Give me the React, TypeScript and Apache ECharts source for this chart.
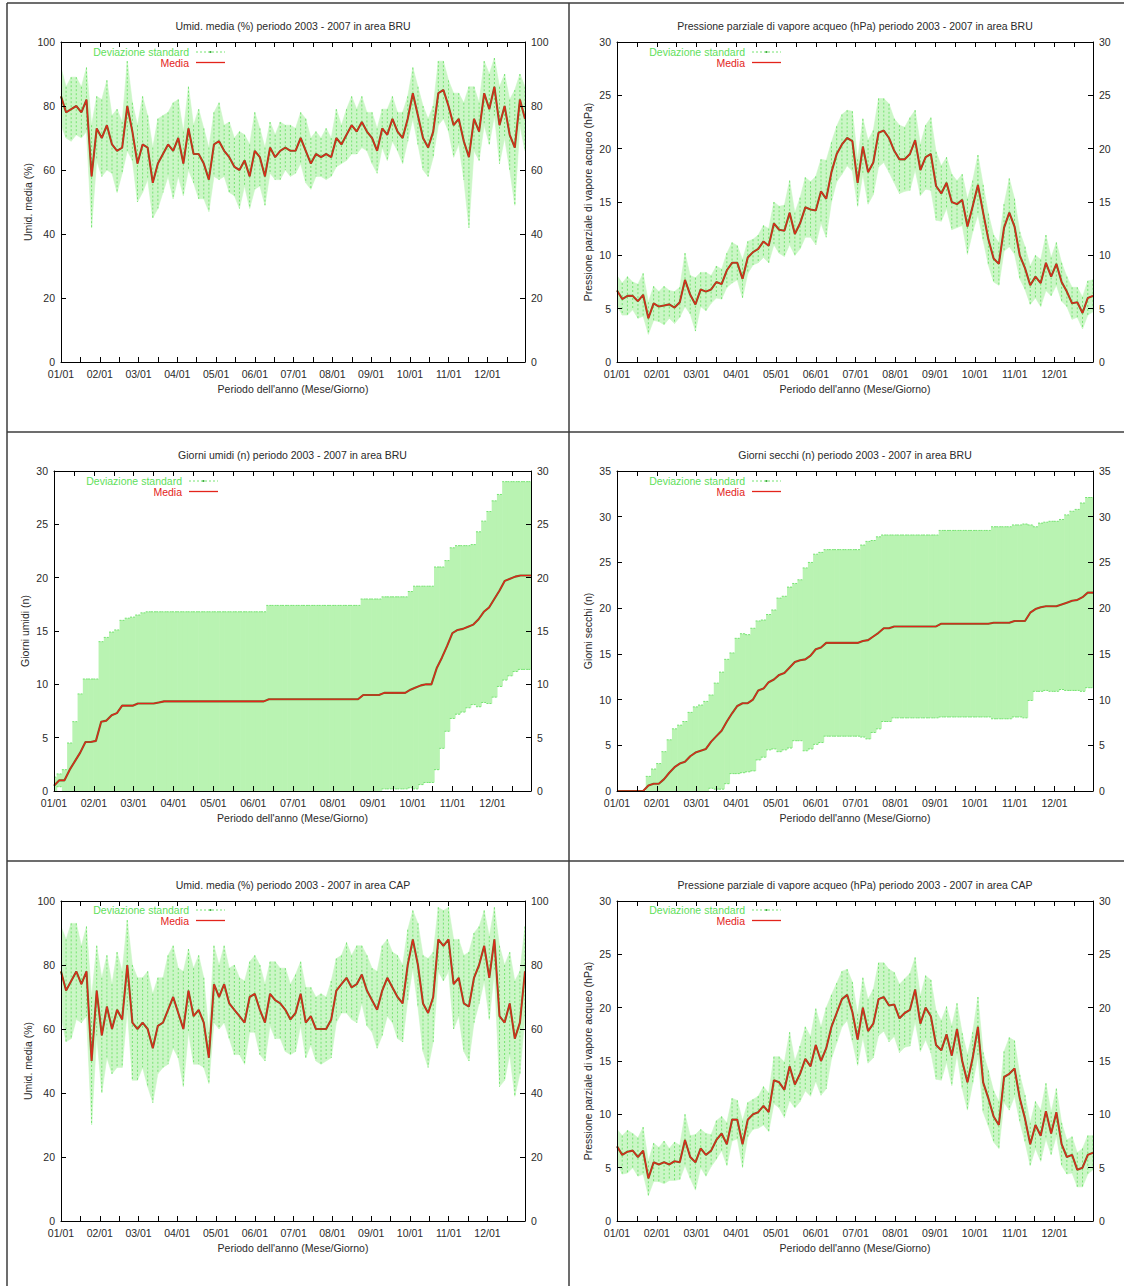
import React, { useEffect, useRef } from "react";
import * as echarts from "echarts";

// ---------- data ----------
const DAYS = [0,4,8,12,16,20,24,28,32,36,40,44,48,52,56,60,64,68,72,76,80,84,88,92,96,100,104,108,112,116,120,124,128,132,136,140,144,148,152,156,160,164,168,172,176,180,184,188,192,196,200,204,208,212,216,220,224,228,232,236,240,244,248,252,256,260,264,268,272,276,280,284,288,292,296,300,304,308,312,316,320,324,328,332,336,340,344,348,352,356,360,364];

const MONTH_LABELS = ["01/01","02/01","03/01","04/01","05/01","06/01","07/01","08/01","09/01","10/01","11/01","12/01"];

const TITLES = [
  "Umid. media (%) periodo 2003 - 2007 in area BRU",
  "Pressione parziale di vapore acqueo (hPa) periodo 2003 - 2007 in area BRU",
  "Giorni umidi (n) periodo 2003 - 2007 in area BRU",
  "Giorni secchi (n) periodo 2003 - 2007 in area BRU",
  "Umid. media (%) periodo 2003 - 2007 in area CAP",
  "Pressione parziale di vapore acqueo (hPa) periodo 2003 - 2007 in area CAP",
];
const Y_NAMES = [
  "Umid. media (%)",
  "Pressione parziale di vapore acqueo (hPa)",
  "Giorni umidi (n)",
  "Giorni secchi (n)",
  "Umid. media (%)",
  "Pressione parziale di vapore acqueo (hPa)",
];
const X_NAME = "Periodo dell'anno (Mese/Giorno)";
const LEGEND_SD = "Deviazione standard";
const LEGEND_MEAN = "Media";

const BRU_UMID_MEAN = [83,78,79,80,78,82,58,73,70,74,
  68,66,67,80,72,62,68,67,56,62,
  65,68,66,70,62,73,65,65,62,57,
  68,69,66,64,61,60,63,58,66,64,
  58,67,64,66,67,66,66,70,66,62,
  65,64,65,64,70,68,71,74,72,75,
  72,70,66,73,71,76,72,70,76,84,
  77,70,67,72,84,85,80,74,76,69,
  64,76,72,84,79,86,74,80,71,67,
  82,76];
const BRU_UMID_SD = [9,8,10,9,8,10,16,10,12,14,
  9,13,8,14,9,12,15,10,11,14,
  12,10,15,12,10,13,9,14,11,10,
  10,12,8,11,9,12,8,10,12,9,
  9,8,7,9,7,8,7,8,10,8,
  7,6,8,6,9,6,8,9,7,8,
  6,8,7,6,8,7,6,8,7,8,
  9,10,9,8,10,9,8,10,8,12,
  22,10,9,10,11,9,12,10,11,18,
  8,10];

const BRU_HPA_MEAN = [6.7,5.9,6.2,6.2,5.7,6.3,4.1,5.5,5.2,5.3,
  5.4,5.1,5.6,7.7,6.3,5.4,6.8,6.6,6.8,7.5,
  7.3,8.6,9.3,9.3,7.8,9.8,10.3,10.6,11.3,10.9,
  13.0,12.4,12.3,14.0,12.0,13.0,14.5,14.3,14.2,16.0,
  15.3,17.8,19.5,20.4,21.0,20.7,16.8,20.2,17.8,18.7,
  21.5,21.7,21.0,19.8,19.0,19.0,19.5,20.8,18.0,19.2,
  19.5,16.5,15.8,16.8,15.0,14.8,15.2,12.7,14.6,16.6,
  14.0,11.5,9.7,9.2,12.6,14.0,12.7,10.0,8.8,7.2,
  8.0,7.4,9.3,8.0,9.2,7.5,6.6,5.5,5.6,4.6,
  6.0,6.2];
const BRU_HPA_SD = [1.4,1.5,1.8,1.3,1.6,2.0,1.5,1.6,1.4,1.8,
  1.3,1.5,1.4,2.5,1.8,2.5,1.6,1.8,1.3,1.5,
  1.4,1.6,1.9,1.6,1.8,1.5,1.2,1.3,1.5,1.6,
  2.0,2.2,2.4,3.0,2.0,2.4,2.8,2.6,3.2,3.0,
  3.6,2.8,2.6,2.8,2.6,2.8,2.2,2.6,3.0,3.0,
  3.2,3.0,3.2,3.0,3.2,3.0,3.4,2.8,2.4,3.0,
  3.4,3.2,2.6,2.4,2.6,2.2,2.4,2.6,2.4,2.8,
  2.6,2.4,2.2,2.0,2.2,3.2,2.6,2.2,2.0,1.8,
  2.0,2.2,2.6,1.8,2.0,1.8,1.4,1.5,1.4,1.5,
  1.6,1.5];

const BRU_WET_MEAN = [0.5,1.0,1.0,2.0,2.8,3.6,4.6,4.6,4.7,6.5,
  6.6,7.1,7.3,8.0,8.0,8.0,8.2,8.2,8.2,8.2,
  8.3,8.4,8.4,8.4,8.4,8.4,8.4,8.4,8.4,8.4,
  8.4,8.4,8.4,8.4,8.4,8.4,8.4,8.4,8.4,8.4,
  8.4,8.6,8.6,8.6,8.6,8.6,8.6,8.6,8.6,8.6,
  8.6,8.6,8.6,8.6,8.6,8.6,8.6,8.6,8.6,9.0,
  9.0,9.0,9.0,9.2,9.2,9.2,9.2,9.2,9.5,9.7,
  9.9,10.0,10.0,11.5,12.5,13.6,14.8,15.1,15.2,15.4,
  15.6,16.1,16.8,17.2,18.0,18.8,19.7,19.9,20.1,20.2,
  20.2,20.2];
const BRU_WET_SD = [0.8,0.6,1.0,2.5,3.7,5.5,5.9,5.9,5.8,7.5,
  7.8,7.8,7.8,8.0,8.2,8.3,8.3,8.5,8.6,8.6,
  8.5,8.4,8.4,8.4,8.4,8.4,8.4,8.4,8.4,8.4,
  8.4,8.4,8.4,8.4,8.4,8.4,8.4,8.4,8.4,8.4,
  8.4,8.8,8.8,8.8,8.8,8.8,8.8,8.8,8.8,8.8,
  8.8,8.8,8.8,8.8,8.8,8.8,8.8,8.8,8.8,9.0,
  9.0,9.0,9.0,9.0,9.0,9.0,9.0,9.0,9.2,9.5,
  9.3,9.2,9.2,9.5,8.5,8.0,8.0,7.9,7.8,7.6,
  7.5,8.2,8.5,9.0,9.2,9.0,9.3,9.1,8.9,8.8,
  8.8,8.8];

const BRU_DRY_MEAN = [0,0,0,0,0,0,0.6,0.8,0.8,1.3,
  2.0,2.6,3.0,3.2,3.8,4.2,4.4,4.6,5.4,6.0,
  6.6,7.6,8.5,9.3,9.6,9.6,10.0,11.0,11.2,11.9,
  12.2,12.7,12.9,13.5,14.1,14.3,14.4,14.8,15.5,15.7,
  16.2,16.2,16.2,16.2,16.2,16.2,16.2,16.4,16.5,16.9,
  17.3,17.8,17.8,18.0,18.0,18.0,18.0,18.0,18.0,18.0,
  18.0,18.0,18.3,18.3,18.3,18.3,18.3,18.3,18.3,18.3,
  18.3,18.3,18.4,18.4,18.4,18.4,18.6,18.6,18.6,19.5,
  19.9,20.1,20.2,20.2,20.2,20.4,20.6,20.8,20.9,21.2,
  21.7,21.7];
const BRU_DRY_SD = [0,0,0,0,0,0,1.0,1.6,2.2,3.0,
  3.6,4.2,4.2,4.4,4.8,5.0,5.0,5.2,5.1,5.8,
  6.4,6.8,6.6,7.4,7.6,7.5,7.8,7.6,7.5,7.4,
  7.6,8.4,8.4,8.8,8.6,8.8,10.0,10.2,10.4,10.4,
  10.2,10.2,10.2,10.2,10.2,10.2,10.2,10.5,10.8,10.5,
  10.5,10.2,10.2,10.0,10.0,10.0,10.0,10.0,10.0,10.0,
  10.0,10.0,10.2,10.2,10.2,10.2,10.2,10.2,10.2,10.2,
  10.2,10.2,10.5,10.5,10.5,10.5,10.5,10.5,10.6,9.6,
  9.0,9.2,9.2,9.3,9.3,9.3,9.6,9.8,9.9,10.3,
  10.4,10.4];

const CAP_UMID_MEAN = [78,72,75,78,74,78,50,72,58,67,
  60,66,63,80,62,60,62,60,54,61,
  62,66,70,65,60,72,64,66,62,51,
  74,70,74,68,66,64,62,70,71,66,
  62,71,69,68,66,63,65,71,62,64,
  60,60,60,63,72,74,76,73,74,77,
  72,69,66,72,76,73,70,68,80,88,
  80,68,65,70,88,86,88,74,76,68,
  67,76,80,86,76,88,64,62,68,57,
  62,78];
const CAP_UMID_SD = [14,16,18,15,12,14,20,14,18,16,
  14,18,15,14,18,16,14,18,17,15,
  14,17,16,14,18,13,15,17,14,8,
  12,10,12,11,14,12,13,11,12,14,
  12,10,12,11,13,11,12,10,11,9,
  10,11,10,12,10,9,11,10,12,9,
  11,10,12,14,12,11,13,12,11,9,
  13,15,17,14,10,11,10,14,12,15,
  17,14,12,11,13,10,22,18,16,18,
  16,14];

const CAP_HPA_MEAN = [7.0,6.2,6.5,6.6,6.0,6.6,4.0,5.5,5.3,5.5,
  5.3,5.6,5.5,7.6,6.0,5.5,6.8,6.2,6.6,7.6,
  8.2,7.2,9.5,9.5,7.2,9.5,10.0,10.2,10.8,10.2,
  13.2,13.0,12.3,14.5,12.8,13.8,15.2,14.5,16.5,15.0,
  16.2,18.2,19.5,20.8,21.2,19.6,17.0,20.0,17.8,18.5,
  20.8,21.0,20.2,20.3,19.0,19.5,19.8,21.7,18.5,20.0,
  19.2,16.5,16.0,17.5,15.5,18.0,15.0,13.0,15.3,18.2,
  13.0,11.5,9.8,9.0,13.5,13.8,14.3,11.5,9.6,7.2,
  9.0,8.0,10.3,8.2,10.2,7.2,6.0,6.2,4.8,5.0,
  6.2,6.4];
const CAP_HPA_SD = [1.6,1.8,2.0,1.6,1.8,2.2,1.6,1.8,1.6,2.0,
  1.5,1.8,1.6,2.4,2.0,2.6,1.8,2.0,1.5,1.8,
  1.6,2.0,2.0,1.8,2.2,1.6,1.4,1.5,1.8,1.8,
  2.2,2.4,2.6,3.2,2.2,2.6,3.0,2.8,3.4,3.2,
  3.8,3.0,2.8,2.6,2.4,2.8,2.4,2.8,3.0,3.2,
  3.4,3.2,3.4,3.0,3.2,3.2,3.4,3.0,2.6,3.0,
  3.4,3.2,2.8,2.6,2.8,2.4,2.6,2.6,2.4,2.8,
  2.8,2.6,2.4,2.2,2.4,3.4,2.6,2.2,2.2,2.0,
  2.2,2.4,2.6,2.0,2.2,2.0,1.6,1.7,1.6,1.8,
  1.8,1.6];

// ---------- layout / style ----------
const X_MAX = 364;
const MONTH_STEP = 365 / 12;
const FONT = "'Liberation Sans', Arial, Helvetica, sans-serif";
const FS = 10.5;
const TEXT = "#2a2a2a";
const BAND_SOFT = "#cbf6c6";
const BAND_DENSE = "#b9f3b2";
const BAR_COLOR = "#76e472";
const RED = "#e3241b";

const PANELS = [
  { grid: { left: 61, top: 42, width: 464, height: 320 }, yMax: 100, yInt: 20, mean: BRU_UMID_MEAN, sd: BRU_UMID_SD, mode: "poly", titleY: 26, nameGap: 25, leg: [189, 52] },
  { grid: { left: 617, top: 42, width: 476, height: 320 }, yMax: 30, yInt: 5, mean: BRU_HPA_MEAN, sd: BRU_HPA_SD, mode: "poly", titleY: 26, nameGap: 24, leg: [745, 52] },
  { grid: { left: 54, top: 471, width: 477, height: 320 }, yMax: 30, yInt: 5, mean: BRU_WET_MEAN, sd: BRU_WET_SD, mode: "step", titleY: 455, nameGap: 24, leg: [182, 481] },
  { grid: { left: 617, top: 471, width: 476, height: 320 }, yMax: 35, yInt: 5, mean: BRU_DRY_MEAN, sd: BRU_DRY_SD, mode: "step", titleY: 455, nameGap: 24, leg: [745, 481] },
  { grid: { left: 61, top: 901, width: 464, height: 320 }, yMax: 100, yInt: 20, mean: CAP_UMID_MEAN, sd: CAP_UMID_SD, mode: "poly", titleY: 885, nameGap: 25, leg: [189, 910] },
  { grid: { left: 617, top: 901, width: 476, height: 320 }, yMax: 30, yInt: 5, mean: CAP_HPA_MEAN, sd: CAP_HPA_SD, mode: "poly", titleY: 885, nameGap: 24, leg: [745, 910] },
];

function monthLabel(v: number) {
  const m = v / MONTH_STEP;
  const r = Math.round(m);
  if (Math.abs(m - r) > 0.05 || r < 0 || r > 11) return "";
  return MONTH_LABELS[r];
}

const axisLine = { show: true, onZero: false, lineStyle: { color: "#000", width: 1 } };
const tick = { show: true, inside: true, length: 5, lineStyle: { color: "#000", width: 1 } };
const minorTick = { show: true, splitNumber: 2, length: 5, lineStyle: { color: "#000", width: 1 } };
const labelStyle = { color: TEXT, fontSize: FS, fontFamily: FONT };

function bandSeries(i: number, p: any) {
  const mean: number[] = p.mean;
  const sd: number[] = p.sd;
  const n = DAYS.length;
  const lo = (k: number) => Math.max(0, mean[k] - sd[k]);
  const hi = (k: number) => Math.min(p.yMax, mean[k] + sd[k]);
  return {
    type: "custom",
    xAxisIndex: 2 * i,
    yAxisIndex: 2 * i,
    silent: true,
    clip: true,
    z: 2,
    data: DAYS.map((d, k) => [d, mean[k], sd[k]]),
    renderItem: (params: any, api: any) => {
      const k = params.dataIndex;
      const children: any[] = [];
      if (sd[k] <= 0 && (p.mode === "step" || k === n - 1 || sd[k + 1] <= 0)) {
        return { type: "group", children };
      }
      if (p.mode === "poly") {
        if (k < n - 1) {
          const pts = [
            api.coord([DAYS[k], hi(k)]),
            api.coord([DAYS[k + 1], hi(k + 1)]),
            api.coord([DAYS[k + 1], lo(k + 1)]),
            api.coord([DAYS[k], lo(k)]),
          ];
          children.push({ type: "polygon", shape: { points: pts }, style: { fill: BAND_SOFT, stroke: BAND_SOFT, lineWidth: 0.6 } });
        }
        const a = api.coord([DAYS[k], hi(k)]);
        const b = api.coord([DAYS[k], lo(k)]);
        children.push({ type: "line", shape: { x1: a[0], y1: a[1], x2: b[0], y2: b[1] }, style: { stroke: BAR_COLOR, lineWidth: 1, lineDash: [2, 2] } });
      } else {
        const x0 = Math.max(0, DAYS[k] - 2);
        const x1 = Math.min(X_MAX, DAYS[k] + 2);
        const tl = api.coord([x0, hi(k)]);
        const br = api.coord([x1, lo(k)]);
        children.push({ type: "rect", shape: { x: tl[0], y: tl[1], width: br[0] - tl[0] + 0.6, height: br[1] - tl[1] }, style: { fill: BAND_DENSE } });
        children.push({ type: "line", shape: { x1: tl[0], y1: tl[1], x2: br[0], y2: tl[1] }, style: { stroke: BAR_COLOR, lineWidth: 1, lineDash: [2, 1] } });
        if (lo(k) > 0) {
          children.push({ type: "line", shape: { x1: tl[0], y1: br[1], x2: br[0], y2: br[1] }, style: { stroke: BAR_COLOR, lineWidth: 1, lineDash: [2, 1] } });
        }
      }
      return { type: "group", children };
    },
  };
}

function buildOption() {
  const grid: any[] = [];
  const xAxis: any[] = [];
  const yAxis: any[] = [];
  const series: any[] = [];
  const graphic: any[] = [];

  PANELS.forEach((p, i) => {
    grid.push({ ...p.grid, containLabel: false, show: false });
    xAxis.push({
      type: "value", gridIndex: i, position: "bottom", min: 0, max: X_MAX, interval: MONTH_STEP,
      axisLine, axisTick: { ...tick }, minorTick: { ...minorTick },
      splitLine: { show: false }, minorSplitLine: { show: false },
      axisLabel: { ...labelStyle, margin: 6, formatter: monthLabel, showMaxLabel: false },
      name: X_NAME, nameLocation: "middle", nameGap: 21, nameTextStyle: { ...labelStyle },
      z: 5,
    });
    xAxis.push({
      type: "value", gridIndex: i, position: "top", min: 0, max: X_MAX, interval: MONTH_STEP,
      axisLine, axisTick: { ...tick }, minorTick: { ...minorTick },
      splitLine: { show: false }, axisLabel: { show: false },
      z: 5,
    });
    yAxis.push({
      type: "value", gridIndex: i, position: "left", min: 0, max: p.yMax, interval: p.yInt,
      axisLine, axisTick: { ...tick }, splitLine: { show: false },
      axisLabel: { ...labelStyle, margin: 6 },
      name: Y_NAMES[i], nameLocation: "middle", nameGap: p.nameGap, nameTextStyle: { ...labelStyle },
      z: 5,
    });
    yAxis.push({
      type: "value", gridIndex: i, position: "right", min: 0, max: p.yMax, interval: p.yInt,
      axisLine, axisTick: { ...tick }, splitLine: { show: false },
      axisLabel: { ...labelStyle, margin: 6 },
      z: 5,
    });

    series.push(bandSeries(i, p));
    const lineData = DAYS.map((d, k) => [d, p.mean[k]]);
    series.push({
      type: "line", xAxisIndex: 2 * i, yAxisIndex: 2 * i, data: lineData, showSymbol: false, silent: true, z: 3,
      lineStyle: { color: "#7a6428", width: 2.1 },
    });
    series.push({
      type: "line", xAxisIndex: 2 * i, yAxisIndex: 2 * i, data: lineData, showSymbol: false, silent: true, z: 4,
      lineStyle: { color: RED, width: 1.1 },
    });

    // title
    graphic.push({
      type: "text", x: p.grid.left + p.grid.width / 2, y: p.titleY, silent: true,
      style: { text: TITLES[i], fill: TEXT, fontSize: FS, fontFamily: FONT, align: "center", verticalAlign: "middle", textAlign: "center", textVerticalAlign: "middle" },
    });
    // legend
    const [lx, ly] = p.leg;
    graphic.push({
      type: "text", x: lx, y: ly, silent: true,
      style: { text: LEGEND_SD, fill: "#5fe05c", fontSize: FS, fontFamily: FONT, align: "right", verticalAlign: "middle", textAlign: "right", textVerticalAlign: "middle" },
    });
    graphic.push({ type: "line", silent: true, shape: { x1: lx + 7, y1: ly, x2: lx + 36, y2: ly }, style: { stroke: BAR_COLOR, lineWidth: 1, lineDash: [2, 2] } });
    graphic.push({ type: "circle", silent: true, shape: { cx: lx + 21.5, cy: ly, r: 1.1 }, style: { fill: "#3fae3f" } });
    graphic.push({
      type: "text", x: lx, y: ly + 10.5, silent: true,
      style: { text: LEGEND_MEAN, fill: RED, fontSize: FS, fontFamily: FONT, align: "right", verticalAlign: "middle", textAlign: "right", textVerticalAlign: "middle" },
    });
    graphic.push({ type: "line", silent: true, shape: { x1: lx + 7, y1: ly + 10.5, x2: lx + 36, y2: ly + 10.5 }, style: { stroke: RED, lineWidth: 1.3 } });
  });

  // table frame
  const frame = { stroke: "#3c3c3c", lineWidth: 1.5 };
  graphic.push({ type: "line", silent: true, shape: { x1: 7, y1: 3, x2: 7, y2: 1286 }, style: frame });
  graphic.push({ type: "line", silent: true, shape: { x1: 7, y1: 3, x2: 1124, y2: 3 }, style: frame });
  graphic.push({ type: "line", silent: true, shape: { x1: 569, y1: 3, x2: 569, y2: 1286 }, style: frame });
  graphic.push({ type: "line", silent: true, shape: { x1: 7, y1: 432, x2: 1124, y2: 432 }, style: frame });
  graphic.push({ type: "line", silent: true, shape: { x1: 7, y1: 861, x2: 1124, y2: 861 }, style: frame });

  return {
    animation: false,
    backgroundColor: "#ffffff",
    textStyle: { fontFamily: FONT },
    grid, xAxis, yAxis, series, graphic,
  };
}

export default function App() {
  const ref = useRef<HTMLDivElement>(null);
  useEffect(() => {
    document.body.style.margin = "0";
    if (!ref.current) return;
    const chart = echarts.init(ref.current, undefined, { renderer: "svg" });
    chart.setOption(buildOption() as any);
    return () => chart.dispose();
  }, []);
  return <div ref={ref} style={{ width: 1124, height: 1286, background: "#fff" }} />;
}
